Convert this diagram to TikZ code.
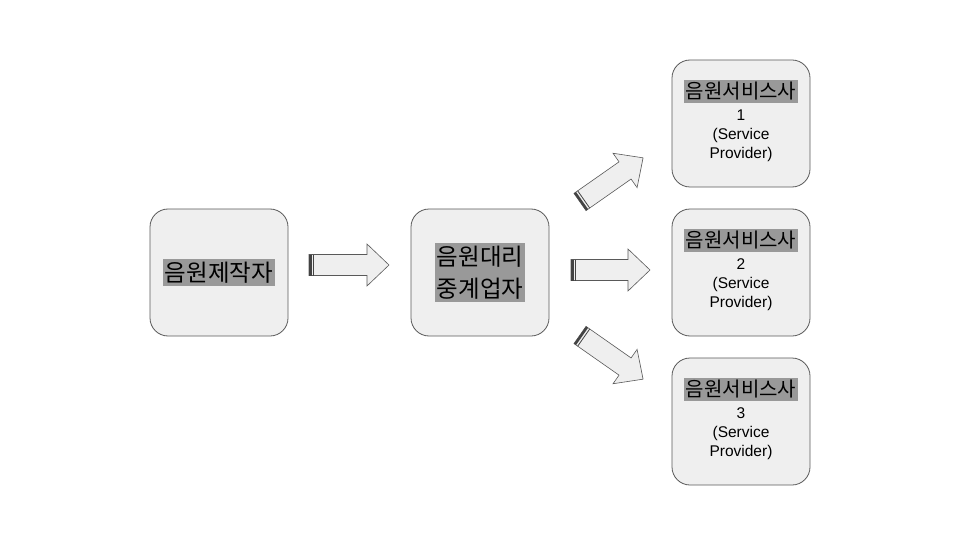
\documentclass[tikz,border=0pt]{standalone}
\usepackage{fontspec}
\setmainfont{Liberation Sans}
\newfontfamily\kor{Noto Sans CJK KR}
\usetikzlibrary{positioning,calc}
\definecolor{boxfill}{HTML}{EFEFEF}
\definecolor{boxline}{HTML}{595959}
\definecolor{hlgray}{HTML}{999999}
\definecolor{stripe}{HTML}{434343}
\tikzset{
  party/.style={draw=boxline, fill=boxfill, rounded corners=18pt,
    minimum width=138pt, minimum height=127pt, line width=0.8pt, inner sep=0pt},
  krlabel/.style={fill=hlgray, font=\kor\fontsize{23.5}{32}\selectfont,
    text=black, inner xsep=2pt, inner ysep=3pt, align=center},
  svclabel/.style={krlabel, font=\kor\fontsize{20}{24}\selectfont, inner ysep=2.5pt},
  entext/.style={font=\fontsize{15.5}{19}\selectfont, align=center,
    inner sep=0pt, text=black},
  blockarr/.style={draw=boxline, fill=boxfill, line width=0.6pt, line join=miter},
}
% block arrow: tail point, angle, length
\newcommand{\blockarrow}[3]{%
  \begin{scope}[shift={#1}, rotate=#2]
    \draw[blockarr] (0,-10.5) -- (#3-22,-10.5) -- (#3-22,-21) -- (#3,0)
      -- (#3-22,21) -- (#3-22,10.5) -- (0,10.5) -- cycle;
    \fill[stripe] (0,-10.5) rectangle (2.5,10.5);
    \draw[stripe, line width=0.8pt] (4.5,-10.5) -- (4.5,10.5);
  \end{scope}}

\begin{document}
\begin{tikzpicture}[x=1pt,y=-1pt]
  \useasboundingbox (0,0) rectangle (960,540);
  % producer and agent
  \node[party] (maker) at (219,272.5) {};
  \node[krlabel] (makerlbl) at (maker) {음원제작자};
  \node[party] (agent) at (480,272.5) {};
  \node[krlabel] (agentlbl) at (agent) {음원대리\\중계업자};
  % service providers
  \foreach \n/\y in {1/123.5, 2/272.5, 3/421.5} {
    \node[party] (svc\n) at (741,\y) {};
    \node[svclabel] (svclbl\n) at ([yshift=32pt]svc\n.center) {음원서비스사};
    \node[entext] (svctxt\n) at ([yshift=-12pt]svc\n.center) {\n\\(Service\\Provider)};
  }
  % block arrows
  \blockarrow{(309,265)}{0}{80}
  \blockarrow{(571,270)}{0}{79}
  \blockarrow{(580,202)}{35}{77}
  \blockarrow{(580,335)}{-35}{77}
\end{tikzpicture}
\end{document}
